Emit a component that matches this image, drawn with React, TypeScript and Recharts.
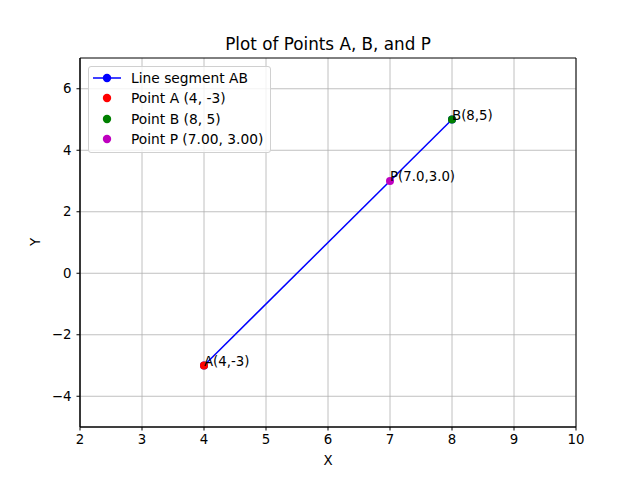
import React from "react";
import {
  ScatterChart,
  Scatter,
  XAxis,
  YAxis,
  CartesianGrid,
  ReferenceArea,
} from "recharts";

// points of the figure
const segmentAB = [
  { x: 4, y: -3 },
  { x: 8, y: 5 },
];
const pointA = [{ x: 4, y: -3, label: "A(4,-3)" }];
const pointB = [{ x: 8, y: 5, label: "B(8,5)" }];
const pointP = [{ x: 7, y: 3, label: "P(7.0,3.0)" }];

const xTicks = [2, 3, 4, 5, 6, 7, 8, 9, 10];
const yTicks = [-4, -2, 0, 2, 4, 6];

const legendItems = [
  { name: "Line segment AB", color: "#0000ff", line: true },
  { name: "Point A (4, -3)", color: "#ff0000", line: false },
  { name: "Point B (8, 5)", color: "#008000", line: false },
  { name: "Point P (7.00, 3.00)", color: "#bf00bf", line: false },
];

const FONT = "'DejaVu Sans', sans-serif";
const FS = 13.33;

const dot = (color: string, withLabel: boolean) => (props: any) => {
  const { cx, cy, payload } = props;
  return (
    <g>
      <circle cx={cx} cy={cy} r={4} fill={color} />
      {withLabel && (
        <text x={cx} y={cy} fontSize={FS} fontFamily={FONT} fill="#000">
          {payload.label}
        </text>
      )}
    </g>
  );
};

function LegendBox() {
  return (
    <div
      style={{
        position: "absolute",
        left: 88,
        top: 66,
        width: 181,
        height: 85,
        border: "1px solid #d0d0d0",
        borderRadius: 3,
        background: "rgba(255,255,255,0.8)",
        fontFamily: FONT,
        fontSize: 13.8,
        color: "#000",
      }}
    >
      {legendItems.map((item, i) => (
        <div
          key={i}
          style={{
            position: "absolute",
            top: 0.5 + i * 20.5,
            left: 0,
            height: 20,
            display: "flex",
            alignItems: "center",
          }}
        >
          <svg width={42} height={20}>
            {item.line && (
              <line x1={4} y1={10} x2={32} y2={10} stroke={item.color} strokeWidth={1.5} />
            )}
            <circle cx={18} cy={10} r={4.2} fill={item.color} />
          </svg>
          <span style={{ whiteSpace: "nowrap" }}>{item.name}</span>
        </div>
      ))}
    </div>
  );
}

export default function App() {
  return (
    <div
      style={{
        position: "absolute",
        left: 0,
        top: 0,
        width: 640,
        height: 480,
        background: "#fff",
        fontFamily: FONT,
      }}
    >
      <ScatterChart
        width={640}
        height={480}
        margin={{ top: 58, right: 64, bottom: 0, left: 0 }}
      >
        <CartesianGrid stroke="#b0b0b0" strokeWidth={0.8} horizontalValues={yTicks} verticalValues={xTicks} />
        <XAxis
          type="number"
          dataKey="x"
          domain={[2, 10]}
          ticks={xTicks}
          height={53}
          tickSize={3.5}
          tickMargin={4}
          axisLine={{ stroke: "#000" }}
          tickLine={{ stroke: "#000" }}
          tick={{ fill: "#000", fontSize: FS, fontFamily: FONT }}
          allowDataOverflow
        />
        <YAxis
          type="number"
          dataKey="y"
          domain={[-5, 7]}
          ticks={yTicks}
          width={80}
          tickSize={3.5}
          tickMargin={5}
          axisLine={{ stroke: "#000" }}
          tickLine={{ stroke: "#000" }}
          tick={{ fill: "#000", fontSize: FS, fontFamily: FONT }}
          tickFormatter={(v: number) => (v < 0 ? "\u2212" + Math.abs(v) : String(v))}
          allowDataOverflow
        />
        <ReferenceArea x1={2} x2={10} y1={-5} y2={7} fill="none" stroke="#000" strokeWidth={1} ifOverflow="visible" />
        <Scatter
          name="Line segment AB"
          data={segmentAB}
          line={{ stroke: "#0000ff", strokeWidth: 1.5 }}
          shape={dot("#0000ff", false)}
          isAnimationActive={false}
        />
        <Scatter name="Point A" data={pointA} shape={dot("#ff0000", true)} isAnimationActive={false} />
        <Scatter name="Point B" data={pointB} shape={dot("#008000", true)} isAnimationActive={false} />
        <Scatter name="Point P" data={pointP} shape={dot("#bf00bf", true)} isAnimationActive={false} />
      </ScatterChart>
      <LegendBox />
      <div
        style={{
          position: "absolute",
          left: 80,
          width: 496,
          top: 34,
          textAlign: "center",
          fontSize: 16.8,
          lineHeight: "20px",
          color: "#000",
        }}
      >
        Plot of Points A, B, and P
      </div>
      <div
        style={{
          position: "absolute",
          left: 80,
          width: 496,
          top: 453,
          textAlign: "center",
          fontSize: FS,
          lineHeight: "16px",
          color: "#000",
        }}
      >
        X
      </div>
      <div
        style={{
          position: "absolute",
          left: 28,
          top: 234,
          width: 16,
          height: 16,
          lineHeight: "16px",
          textAlign: "center",
          fontSize: FS,
          color: "#000",
          transform: "rotate(-90deg)",
        }}
      >
        Y
      </div>
    </div>
  );
}
